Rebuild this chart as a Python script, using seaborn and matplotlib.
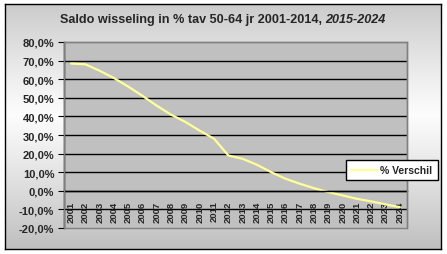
import numpy as np
import pandas as pd
import matplotlib
matplotlib.use("Agg")
import matplotlib.pyplot as plt
import seaborn as sns
from matplotlib.patches import Rectangle

years = [str(y) for y in range(2001, 2025)]
verschil = [68.4, 68.0, 64.5, 60.6, 56.0, 51.0, 45.7, 40.9, 37.0, 32.3, 28.0, 19.0,
            17.2, 14.0, 10.0, 6.5, 3.8, 1.4, -0.7, -2.5, -4.3, -5.7, -7.3, -8.8]
series_name = "% Verschil"
yticks = [80, 70, 60, 50, 40, 30, 20, 10, 0, -10, -20]
title_main = "Saldo wisseling in % tav 50-64 jr 2001-2014, "
title_ital = "2015-2024"

sns.set_theme(style="white")
plt.rcParams['font.family'] = ['Liberation Sans', 'DejaVu Sans']

W, H = 447, 255
fig = plt.figure(figsize=(W / 100, H / 100), dpi=100)
fig.patch.set_facecolor("white")

# chart-area background with gradient and black border
bg = fig.add_axes([5 / W, 1 - 250 / H, 436 / W, 245 / H], zorder=0)
yy = np.linspace(0, 1, 200)[:, None]
xx = np.linspace(0, 1, 200)[None, :]
t = np.clip(np.abs(yy - 0.45) / 0.55, 0, 1) ** 1.1
g = 0.99 - 0.24 * t + 0.0 * xx
bg.imshow(np.dstack([g, g, g]), aspect="auto", extent=[0, 1, 0, 1], origin="upper")
bg.set_xticks([]); bg.set_yticks([])
for s in bg.spines.values():
    s.set_color("black"); s.set_linewidth(1.0)

ax = fig.add_axes([64 / W, 1 - 229 / H, 343 / W, 186 / H], zorder=1)
ax.set_facecolor("#C0C0C0")

df = pd.DataFrame({"x": np.arange(len(years)), "v": verschil, "s": series_name})
sns.lineplot(data=df, x="x", y="v", hue="s", palette=["#FFFF99"], lw=1.6, ax=ax)

# spine position first (it resets ticks)
ax.spines["bottom"].set_position(("data", 0))
ax.spines["bottom"].set_color("black")
ax.spines["left"].set_color("black")
ax.spines["top"].set_color("#808080")
ax.spines["right"].set_color("#808080")
for s in ax.spines.values():
    s.set_linewidth(1.0)

ax.set_ylim(-20, 80)
ax.set_xlim(-0.5, len(years) - 0.5)
ax.set_yticks(yticks)
ax.set_yticklabels([f"{v:.1f}%".replace(".", ",") for v in yticks])
for v in yticks:
    if -20 < v < 80:
        ax.axhline(v, color="black", lw=1.0, zorder=0.5)

ax.set_xticks(np.arange(len(years)))
ax.set_xticklabels(years)
ax.set_xticks(np.arange(len(years) + 1) - 0.5, minor=True)
ax.tick_params(axis="x", which="major", length=0, pad=7)
ax.tick_params(axis="x", which="minor", length=3, width=0.8, color="black", direction="out")
ax.tick_params(axis="y", length=4, width=0.8, color="black", direction="out", pad=3,
               left=True, labelsize=8)
for lab in ax.get_yticklabels():
    lab.set_fontweight("bold")
for lab in ax.get_xticklabels():
    lab.set_fontweight("bold")
    lab.set_fontsize(6.8)
    lab.set_rotation(90)
    lab.set_va("top")
    lab.set_ha("center")

ax.add_patch(Rectangle((0, 0), 1, 1, transform=ax.transAxes, fill=False,
                       edgecolor="#808080", lw=1.0, zorder=3, clip_on=False))
ax.set_xlabel(""); ax.set_ylabel("")

leg = ax.legend(loc="upper left", bbox_to_anchor=(346 / W, 1 - 161 / H),
                bbox_transform=fig.transFigure, frameon=True, fancybox=False,
                prop={"size": 7.5, "weight": "bold"}, handlelength=2.6,
                borderpad=0.5, handletextpad=0.2, borderaxespad=0)
leg.get_frame().set_edgecolor("black")
leg.get_frame().set_linewidth(1.0)
leg.get_frame().set_facecolor("white")
leg.get_frame().set_alpha(1)
leg.set_zorder(5)

# title in two parts
fig.canvas.draw()
r = fig.canvas.get_renderer()
t1 = fig.text(0, 1 - 20 / H, title_main, fontsize=9.1, fontweight="bold", va="center")
t2 = fig.text(0, 1 - 20 / H, title_ital, fontsize=9.1, fontweight="bold",
              fontstyle="italic", va="center")
w1 = t1.get_window_extent(r).width
w2 = t2.get_window_extent(r).width
x0 = 223 - (w1 + w2) / 2
t1.set_x(x0 / W)
t2.set_x((x0 + w1) / W)

fig.savefig("out.png", dpi=100)
